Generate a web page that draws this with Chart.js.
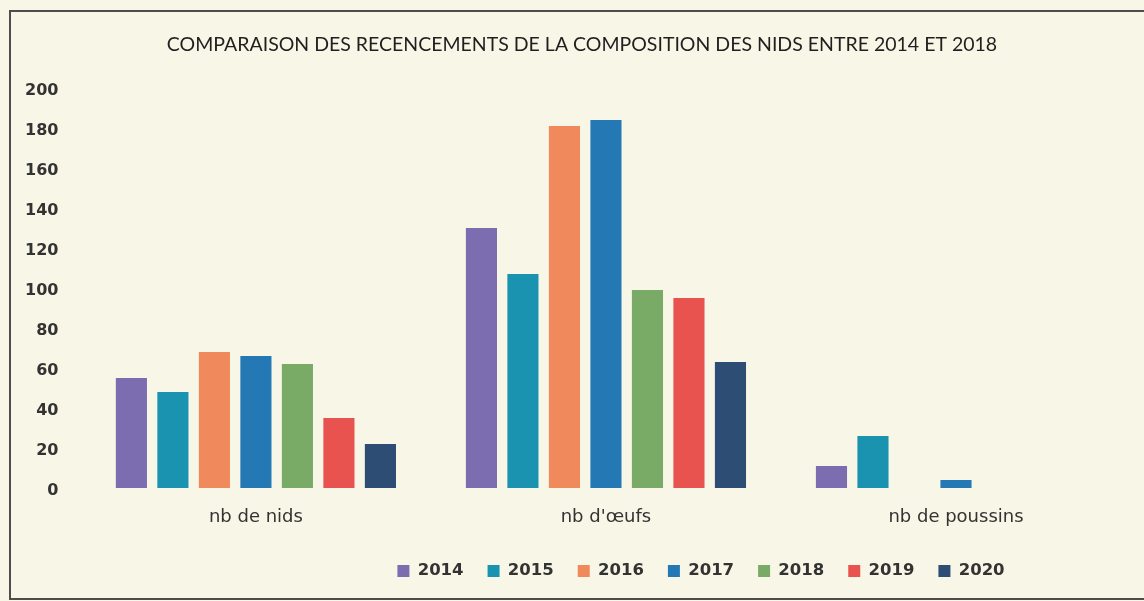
<!DOCTYPE html>
<html lang="fr">
<head>
<meta charset="utf-8">
<title>Recensements des nids</title>
<script src="https://cdn.jsdelivr.net/npm/chart.js@4.4.1/dist/chart.umd.min.js"></script>
<style>
    html, body {
        margin: 0;
        padding: 0;
        overflow: hidden;
        background: #f8f6e6;
    }
    #wrap {
        position: relative;
        width: 1144px;
        height: 601px;
    }
    #frame {
        position: absolute;
        left: 9px;
        top: 10px;
        width: 1200px;
        height: 586px;
        border: 2px solid #4d4d4d;
        pointer-events: none;
    }
</style>
</head>
<body>
<div id="wrap">
    <canvas id="nestChart"></canvas>
    <div id="frame"></div>
</div>
<script>
const categories = ['nb de nids', "nb d'œufs", 'nb de poussins'];
const years = ['2014', '2015', '2016', '2017', '2018', '2019', '2020'];

const values2014 = [55, 130, 11];
const values2015 = [48, 107, 26];
const values2016 = [68, 181, 0];
const values2017 = [66, 184, 4];
const values2018 = [62, 99, 0];
const values2019 = [35, 95, 0];
const values2020 = [22, 63, 0];

const yTicks = [0, 20, 40, 60, 80, 100, 120, 140, 160, 180, 200];

const seriesValues = [values2014, values2015, values2016, values2017, values2018, values2019, values2020];
const seriesColors = ['#7b6db0', '#1a93b0', '#f08a5d', '#2478b4', '#7aab66', '#e8524f', '#2e4d75'];

const textColor = '#333333';

function centerBoxAt(box, x) {
    const dx = x - (box.left + box.right) / 2;
    box.left += dx;
    box.right += dx;
}

// excel did not center title and legend on the canvas, move them after layout
const boxShift = {
    id: 'boxShift',
    afterLayout(chart) {
        centerBoxAt(chart.titleBlock, 582);
        centerBoxAt(chart.legend, 701);
    },
};

function initNestChart() {
    const canvas = document.getElementById('nestChart');

    new Chart(canvas, {
        type: 'bar',
        data: {
            labels: categories,
            datasets: years.map((year, i) => ({
                label: year,
                data: seriesValues[i],
                backgroundColor: seriesColors[i],
                borderWidth: 0,
                categoryPercentage: 0.83,
                barPercentage: 0.75,
            })),
        },
        options: {
            responsive: true,
            maintainAspectRatio: false,
            animation: false,
            layout: {
                padding: { left: 2.5, right: 13, top: 0, bottom: 11.7 },
            },
            plugins: {
                title: {
                    display: true,
                    text: 'COMPARAISON DES RECENCEMENTS DE LA COMPOSITION DES NIDS ENTRE 2014 ET 2018',
                    color: '#1f1f1f',
                    font: { family: 'Lato', size: 19.5, weight: 'normal' },
                    padding: { top: 33.3, bottom: 31.3 },
                },
                legend: {
                    position: 'bottom',
                    labels: {
                        color: textColor,
                        font: { family: 'DejaVu Sans', size: 16.5, weight: 'bold' },
                        boxWidth: 12,
                        boxHeight: 12,
                        padding: 24,
                    },
                },
                tooltip: { enabled: false },
            },
            scales: {
                x: {
                    grid: { display: false, drawTicks: false },
                    border: { display: false },
                    ticks: {
                        color: textColor,
                        font: { family: 'DejaVu Sans', size: 18 },
                        padding: 19,
                        maxRotation: 0,
                    },
                    afterFit(scale) {
                        scale.height -= 8.8;
                    },
                },
                y: {
                    min: 0,
                    max: 200,
                    grid: { display: false, drawTicks: false },
                    border: { display: false },
                    afterBuildTicks(scale) {
                        scale.ticks = yTicks.map((v) => ({ value: v }));
                    },
                    ticks: {
                        color: textColor,
                        font: { family: 'DejaVu Sans', size: 16, weight: 'bold' },
                        padding: 22.5,
                        labelOffset: 3,
                    },
                },
            },
        },
        plugins: [boxShift],
    });
}

document.addEventListener('DOMContentLoaded', initNestChart);
</script>
</body>
</html>
